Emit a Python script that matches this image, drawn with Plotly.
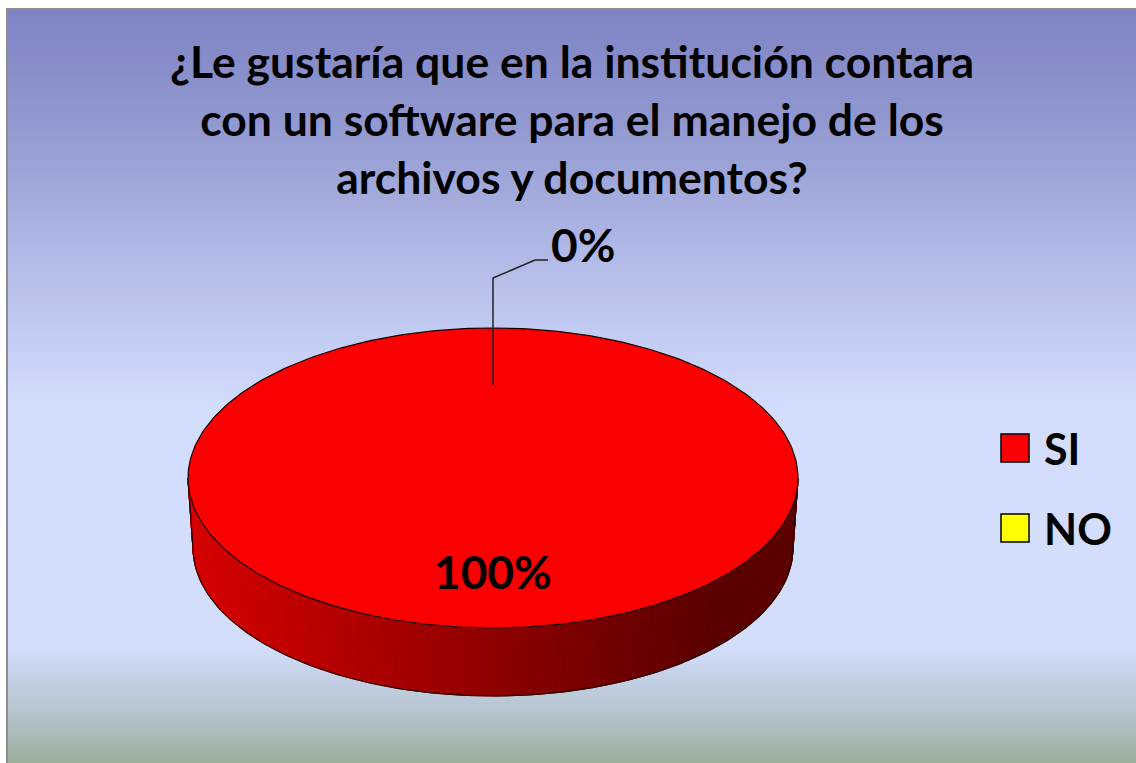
import numpy as np
import plotly.graph_objects as go

# ---------------- data ----------------
labels = ["SI", "NO"]
values = [100, 0]
slice_colors = ["#fb0000", "#ffff00"]
title_lines = ["¿Le gustaría que en la institución contara",
               "con un software para el manejo de los",
               "archivos y documentos?"]

# ---------------- layout constants ----------------
W, H = 1136, 763
CX, CY = 493, 478          # centre of top face (pixels)
RX, RY = 305, 150          # top ellipse radii
RXB, RYB = 300, 148        # bottom ellipse radii (slight perspective)
DEPTH = 70
LABEL_R = 0.62
FONT = "Lato, 'Open Sans', Arial, sans-serif"

total = float(sum(values))
fracs = [v / total for v in values]


def top_pt(t, r=1.0):
    return CX + r * RX * np.sin(t), CY - r * RY * np.cos(t)


def bot_pt(t):
    return CX + RXB * np.sin(t), CY + DEPTH - RYB * np.cos(t)


def hex2rgb(h):
    h = h.lstrip("#")
    return np.array([int(h[i:i + 2], 16) for i in (0, 2, 4)], float)


def lerp_col(c0, c1, f):
    f = min(max(f, 0.0), 1.0)
    c = hex2rgb(c0) * (1 - f) + hex2rgb(c1) * f
    return "rgb(%d,%d,%d)" % tuple(np.round(c).astype(int))


fig = go.Figure()

# ---------------- background gradient ----------------
stops = [(10, "#7e83c3"), (120, "#9198cf"), (250, "#b0b8e6"), (410, "#d3ddfd"),
         (648, "#d3ddfc"), (680, "#c3cfe3"), (715, "#b4c3cc"), (763, "#9aae9a")]
shapes = []
step = 3
ys = np.arange(10, H + step, step)
for y0 in ys:
    ym = y0 + step / 2
    col = stops[-1][1]
    for (a, ca), (b, cb) in zip(stops[:-1], stops[1:]):
        if a <= ym <= b:
            col = lerp_col(ca, cb, (ym - a) / (b - a))
            break
    shapes.append(dict(type="rect", xref="x", yref="y", x0=8, x1=W + 2,
                       y0=y0, y1=y0 + step + 0.6, fillcolor=col,
                       line=dict(width=0), layer="below"))
shapes.append(dict(type="rect", xref="x", yref="y", x0=7, y0=9, x1=W + 5, y1=H + 5,
                   line=dict(color="#8c8c8c", width=2), fillcolor="rgba(0,0,0,0)",
                   layer="below"))

# ---------------- pie (3D, elliptical) ----------------
start = 0.0
angles = []
for f in fracs:
    a0 = start
    a1 = start + f * 2 * np.pi
    angles.append((a0, a1))
    start = a1

# side walls (visible front half: pi/2 .. 3pi/2)
for (a0, a1), col in zip(angles, slice_colors):
    lo, hi = max(a0, np.pi / 2), min(a1, 3 * np.pi / 2)
    if hi <= lo:
        continue
    n = 140
    ts = np.linspace(lo, hi, n + 1)
    for ta, tb in zip(ts[:-1], ts[1:]):
        xa, ya = top_pt(ta)
        xb, yb = top_pt(tb)
        xc, yc = bot_pt(tb)
        xd, yd = bot_pt(ta)
        xm = (xa + xb) / 2
        shade = lerp_col("#d60000", "#5b0000", (xm - 190) / 520.0)
        fig.add_trace(go.Scatter(x=[xa, xb, xc, xd, xa], y=[ya, yb, yc, yd, ya],
                                 mode="lines", fill="toself", fillcolor=shade,
                                 line=dict(color=shade, width=1),
                                 hoverinfo="skip", showlegend=False))
    tb_ = np.linspace(lo, hi, 200)
    bx, by = bot_pt(tb_)
    lx0, ly0 = top_pt(lo)
    hx0, hy0 = top_pt(hi)
    ox = np.concatenate([[lx0], bx, [hx0]])
    oy = np.concatenate([[ly0], by, [hy0]])
    fig.add_trace(go.Scatter(x=ox, y=oy, mode="lines",
                             line=dict(color="#2a0000", width=1.2),
                             hoverinfo="skip", showlegend=False))

# top faces
for (a0, a1), col, lab in zip(angles, slice_colors, labels):
    if a1 - a0 <= 0:
        continue
    ts = np.linspace(a0, a1, 361)
    px, py = top_pt(ts)
    xs = np.concatenate([[CX], px, [CX]])
    ysl = np.concatenate([[CY], py, [CY]])
    fig.add_trace(go.Scatter(x=xs, y=ysl, mode="lines", fill="toself",
                             fillcolor=col, line=dict(width=0), name=lab,
                             hoverinfo="skip", showlegend=False))
ts = np.linspace(0, 2 * np.pi, 400)
rx_, ry_ = top_pt(ts)
fig.add_trace(go.Scatter(x=rx_, y=ry_, mode="lines",
                         line=dict(color="#1a0000", width=1.2),
                         hoverinfo="skip", showlegend=False))

# ---------------- data labels ----------------
annotations = []
for (a0, a1), v in zip(angles, values):
    pct = "%d%%" % round(v / total * 100)
    mid = (a0 + a1) / 2
    ax, ay = top_pt(mid, LABEL_R)
    if v / total > 0.05:
        annotations.append(dict(x=ax, y=ay, xref="x", yref="y", text="<b>%s</b>" % pct,
                                showarrow=False, font=dict(family=FONT, size=46, color="black")))
    else:
        ytop = CY - RY - 50
        lx = [ax, ax, ax + 42, ax + 55]
        ly = [ay, ytop, ytop - 18, ytop - 18]
        fig.add_trace(go.Scatter(x=lx, y=ly, mode="lines",
                                 line=dict(color="#222222", width=1.5),
                                 hoverinfo="skip", showlegend=False))
        annotations.append(dict(x=ax + 56, y=ytop - 34, xref="x", yref="y",
                                text="<b>%s</b>" % pct, xanchor="left",
                                showarrow=False, font=dict(family=FONT, size=46, color="black")))

# ---------------- legend (drawn) ----------------
leg_x = [1015] * len(labels)
leg_y = [448 + 80 * i for i in range(len(labels))]
fig.add_trace(go.Scatter(x=leg_x, y=leg_y, mode="markers",
                         marker=dict(symbol="square", size=28, color=slice_colors,
                                     line=dict(color="black", width=1.5)),
                         hoverinfo="skip", showlegend=False))
for lx_, ly_, lab in zip(leg_x, leg_y, labels):
    annotations.append(dict(x=lx_ + 27, y=ly_, xref="x", yref="y", text="<b>%s</b>" % lab,
                            xanchor="left", showarrow=False,
                            font=dict(family=FONT, size=43, color="black")))

fig.update_layout(
    width=W, height=H,
    margin=dict(l=0, r=0, t=0, b=0),
    paper_bgcolor="white", plot_bgcolor="white",
    xaxis=dict(range=[0, W], visible=False, fixedrange=True),
    yaxis=dict(range=[H, 0], visible=False, fixedrange=True),
    showlegend=False,
    shapes=shapes,
    annotations=annotations,
    title=dict(text="<b>" + "<br>".join(title_lines) + "</b>",
               x=572 / W, xanchor="center", y=1 - 78 / H, yanchor="middle",
               yref="container", xref="container",
               font=dict(family=FONT, size=44.5, color="black")),
)

fig.write_html("out.html", config={"displayModeBar": False},
               post_script="document.body.style.margin='0';document.body.style.overflow='hidden';")
